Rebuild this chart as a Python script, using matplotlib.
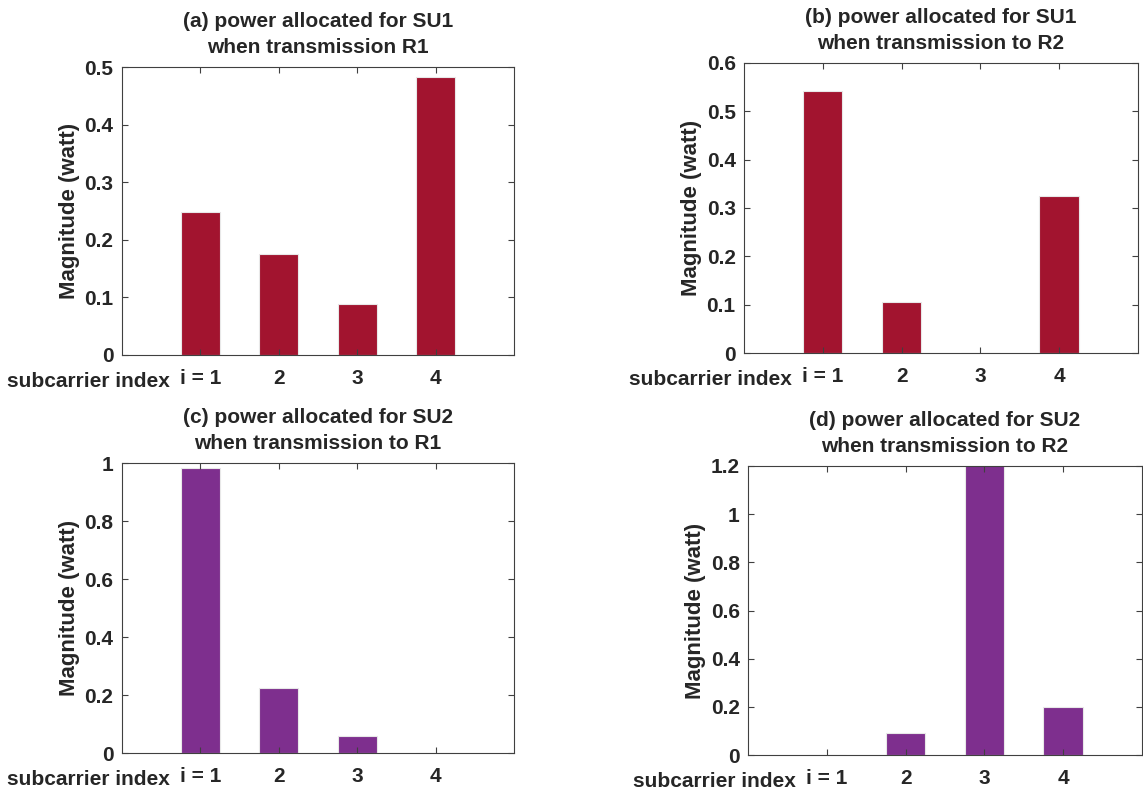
import matplotlib.pyplot as plt
import numpy as np

plt.rcParams['font.family'] = ['Liberation Sans', 'DejaVu Sans']
plt.rcParams['font.weight'] = 'bold'

subcarriers = [1, 2, 3, 4]
tick_labels = ['i = 1', '2', '3', '4']

su1_r1 = [0.248, 0.176, 0.088, 0.483]
su1_r2 = [0.543, 0.106, 0.0, 0.325]
su2_r1 = [0.983, 0.225, 0.058, 0.0]
su2_r2 = [0.0, 0.090, 1.21, 0.200]

titles = ['(a) power allocated for SU1\nwhen transmission R1',
          '(b) power allocated for SU1\nwhen transmission to R2',
          '(c) power allocated for SU2\nwhen transmission to R1',
          '(d) power allocated for SU2\nwhen transmission to R2']
ylims = [0.5, 0.6, 1.0, 1.2]
yticks = [np.arange(0, 0.51, 0.1), np.arange(0, 0.61, 0.1),
          np.arange(0, 1.01, 0.2), np.arange(0, 1.21, 0.2)]

rojo = '#A2142F'
morado = '#7E2F8E'
texto = '#262626'

# posiciones [left, bottom, width, height] en fracciones de la figura
posiciones = [[0.1067, 0.5529, 0.3430, 0.3627],
              [0.6509, 0.5554, 0.3447, 0.3653],
              [0.1067, 0.0516, 0.3430, 0.3652],
              [0.6544, 0.0491, 0.3447, 0.3640]]

datos = [su1_r1, su1_r2, su2_r1, su2_r2]
colores = [rojo, rojo, morado, morado]

fig = plt.figure(figsize=(11.43, 7.94), dpi=100)

for k in range(4):
    ax = fig.add_axes(posiciones[k])
    ax.bar(subcarriers, datos[k], width=0.5, color=colores[k],
           edgecolor='#e8e8e8', linewidth=0.8)
    ax.set_xlim(0, 5)
    ax.set_ylim(0, ylims[k])
    ax.set_xticks(subcarriers)
    ax.set_xticklabels(tick_labels)
    ax.set_yticks(yticks[k])
    ax.set_yticklabels([f'{v:g}' for v in yticks[k]])
    ax.tick_params(direction='in', length=4, width=0.8, top=True, right=True,
                   colors='#404040', labelcolor=texto, labelsize=15, pad=6)
    ax.tick_params(axis='x', pad=10)
    for s in ax.spines.values():
        s.set_color('#404040')
        s.set_linewidth(0.8)
    ax.set_ylabel('Magnitude (watt)', fontsize=16, fontweight='bold',
                  color=texto, labelpad=3)
    ax.set_title(titles[k], fontsize=15, fontweight='bold', color=texto,
                 pad=10, linespacing=1.5)
    ax.annotate('subcarrier index', xy=(1, 0), xycoords=('data', 'axes fraction'),
                xytext=(-22, -12), textcoords='offset points', ha='right', va='top',
                fontsize=15, color=texto)

plt.savefig('out.png', dpi=100)
